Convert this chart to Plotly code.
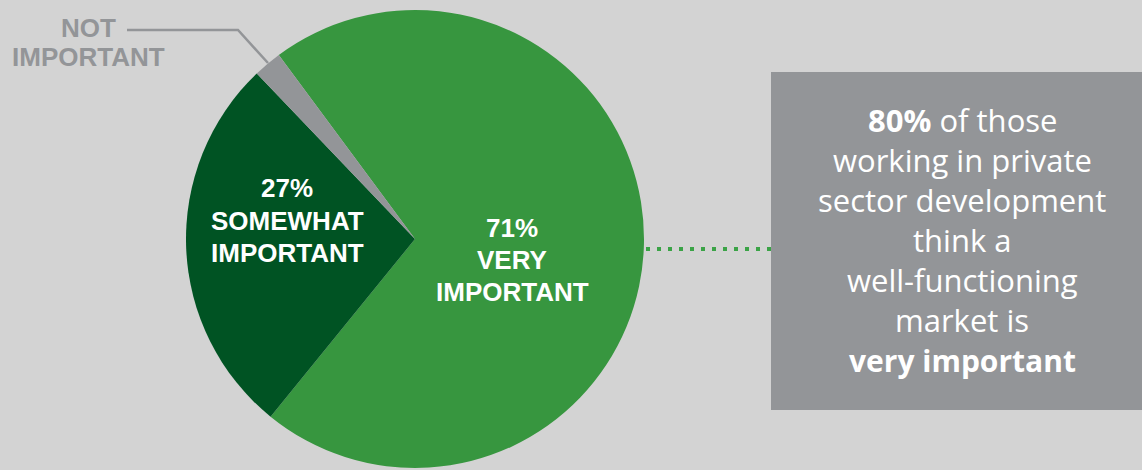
import plotly.graph_objects as go

W, H = 1142, 470

labels = ["VERY IMPORTANT", "SOMEWHAT IMPORTANT", "NOT IMPORTANT"]
values = [71, 27, 2]
colors = ["#37963f", "#005323", "#939598"]

box_lines = [
    "<b>80%</b> of those",
    "working in private",
    "sector development",
    "think a",
    "well-functioning",
    "market is",
    "<b>very important</b>",
]

def px(x):
    return x / W

def py(y):
    return 1 - y / H

cx, cy, r = 415, 239, 229

fig = go.Figure()
fig.add_trace(go.Pie(
    labels=labels,
    values=values,
    marker=dict(colors=colors, line=dict(width=0)),
    sort=False,
    direction="clockwise",
    rotation=-36.5,
    textinfo="none",
    hoverinfo="label+percent",
    showlegend=False,
    domain=dict(x=[px(cx - r), px(cx + r)], y=[py(cy + r), py(cy - r)]),
))

shapes = []
# right box
shapes.append(dict(type="rect", xref="paper", yref="paper",
                   x0=px(771), x1=px(1142), y0=py(410), y1=py(72),
                   fillcolor="#939598", line=dict(width=0), layer="below"))
# dotted connector
shapes.append(dict(type="line", xref="paper", yref="paper",
                   x0=px(646), x1=px(771), y0=py(249), y1=py(249),
                   line=dict(color="#3aa346", width=4, dash="4px,7px")))
# leader line for NOT IMPORTANT
shapes.append(dict(type="path", xref="paper", yref="paper",
                   path=f"M {px(127)} {py(30)} L {px(238)} {py(30)} L {px(268)} {py(63)}",
                   line=dict(color="#939598", width=2.5)))

annotations = []
def add_text(text, x, y, size, color, family, xanchor="center"):
    annotations.append(dict(text=text, x=px(x), y=py(y), xref="paper", yref="paper",
                            showarrow=False, xanchor=xanchor, yanchor="middle",
                            font=dict(size=size, color=color, family=family)))

bold = "Liberation Sans, Arial, sans-serif"
for t, y in zip(["<b>27%</b>", "<b>SOMEWHAT</b>", "<b>IMPORTANT</b>"], [188, 221, 253]):
    add_text(t, 287, y, 26, "white", bold)
for t, y in zip(["<b>71%</b>", "<b>VERY</b>", "<b>IMPORTANT</b>"], [228, 260, 292]):
    add_text(t, 512, y, 26, "white", bold)
for t, y in zip(["<b>NOT</b>", "<b>IMPORTANT</b>"], [28, 57]):
    add_text(t, 88, y, 26, "#939598", bold)

for i, t in enumerate(box_lines):
    size = 30 if t.startswith("<b>very") else 31
    add_text(t, 962, 120 + 40 * i, size, "white", "Open Sans, sans-serif")

fig.update_layout(
    width=W, height=H,
    margin=dict(l=0, r=0, t=0, b=0),
    paper_bgcolor="#d3d3d3",
    plot_bgcolor="#d3d3d3",
    shapes=shapes,
    annotations=annotations,
)

fig.write_html("out.html")
